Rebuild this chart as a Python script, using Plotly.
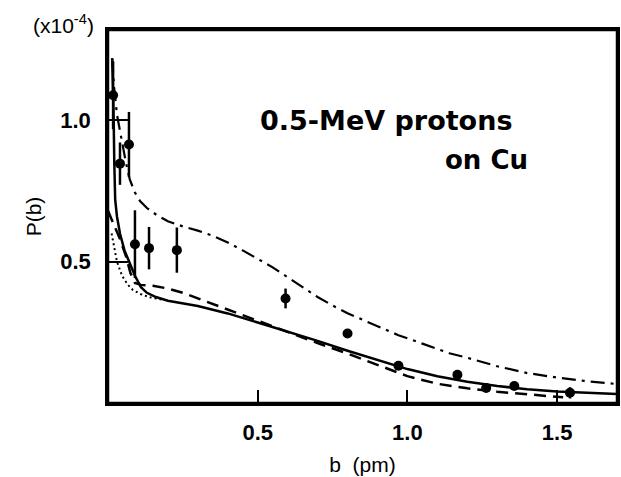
import plotly.graph_objects as go

# ── Measured points (P in units of 1e-4) ───────────────────────────────────
b_data = [0.017, 0.04, 0.07, 0.09, 0.137, 0.23, 0.593, 0.80, 0.97, 1.167, 1.263, 1.357, 1.543]
p_data = [1.089, 0.847, 0.915, 0.562, 0.548, 0.541, 0.370, 0.246, 0.132, 0.100, 0.053, 0.060, 0.036]
p_err = [0.12, 0.075, 0.115, 0.12, 0.075, 0.08, 0.035, 0, 0, 0, 0, 0, 0.02]

# ── Theory curves ──────────────────────────────────────────────────────────
b_solid = [0.014, 0.017, 0.019, 0.021, 0.024, 0.03, 0.04, 0.055, 0.07, 0.09, 0.11, 0.13,
           0.16, 0.2, 0.3, 0.4, 0.5, 0.6, 0.7, 0.8, 0.9, 1.0, 1.1, 1.2, 1.3, 1.4, 1.5, 1.6, 1.7]
p_solid = [1.22, 1.12, 1.0, 0.85, 0.72, 0.66, 0.60, 0.54, 0.50, 0.45, 0.41, 0.39,
           0.375, 0.362, 0.343, 0.317, 0.285, 0.253, 0.22, 0.185, 0.152, 0.12, 0.095,
           0.075, 0.06, 0.049, 0.041, 0.036, 0.032]

b_dash = [0.0, 0.02, 0.04, 0.06, 0.075, 0.09, 0.11, 0.15, 0.2, 0.25, 0.3, 0.4, 0.5, 0.6,
          0.7, 0.8, 0.9, 1.0, 1.1, 1.2, 1.3, 1.4, 1.52]
p_dash = [0.68, 0.63, 0.58, 0.52, 0.46, 0.425, 0.418, 0.415, 0.405, 0.39, 0.37, 0.33, 0.29,
          0.25, 0.212, 0.175, 0.135, 0.095, 0.068, 0.052, 0.04, 0.03, 0.02]

b_dashdot = [0.014, 0.02, 0.03, 0.04, 0.047, 0.06, 0.073, 0.09, 0.107, 0.13, 0.163, 0.2,
             0.25, 0.3, 0.35, 0.4, 0.45, 0.5, 0.55, 0.6, 0.65, 0.7, 0.75, 0.8, 0.86, 0.9,
             0.97, 1.05, 1.14, 1.2, 1.3, 1.4, 1.5, 1.6, 1.7]
p_dashdot = [1.22, 1.12, 1.02, 0.96, 0.93, 0.85, 0.79, 0.745, 0.715, 0.69, 0.665, 0.643,
             0.625, 0.61, 0.592, 0.568, 0.54, 0.51, 0.48, 0.445, 0.41, 0.375, 0.345, 0.318,
             0.29, 0.272, 0.24, 0.21, 0.176, 0.16, 0.13, 0.106, 0.09, 0.077, 0.067]

b_dot = [0.012, 0.02, 0.03, 0.047, 0.065, 0.083, 0.11, 0.14, 0.18]
p_dot = [0.60, 0.55, 0.50, 0.45, 0.42, 0.40, 0.385, 0.374, 0.366]

x_ticks = [0.5, 1.0, 1.5]
y_ticks = [0.5, 1.0]

FONT = "Liberation Sans, Arial, sans-serif"
WIDE = "DejaVu Sans, Liberation Sans, sans-serif"

fig = go.Figure()
fig.add_trace(go.Scatter(x=b_solid, y=p_solid, mode="lines",
                         line=dict(color="black", width=2.5)))
fig.add_trace(go.Scatter(x=b_dash, y=p_dash, mode="lines",
                         line=dict(color="black", width=2.5, dash="12px,7px")))
fig.add_trace(go.Scatter(x=b_dashdot, y=p_dashdot, mode="lines",
                         line=dict(color="black", width=2.2, dash="14px,6px,3px,6px")))
fig.add_trace(go.Scatter(x=b_dot, y=p_dot, mode="lines",
                         line=dict(color="black", width=2, dash="2px,3px")))
fig.add_trace(go.Scatter(
    x=b_data, y=p_data, mode="markers",
    marker=dict(color="black", size=10),
    error_y=dict(type="data", array=p_err, color="black", thickness=2.5, width=0),
))

# figure label
fig.add_annotation(x=0.93, y=1.0, xref="x", yref="y", text="<b>0.5-MeV protons</b>",
                   showarrow=False, xanchor="center", yanchor="middle",
                   font=dict(family=WIDE, size=27, color="black"))
fig.add_annotation(x=1.41, y=0.861, xref="x", yref="y", text="<b>on Cu</b>",
                   showarrow=False, xanchor="right", yanchor="middle",
                   font=dict(family=WIDE, size=26, color="black"))
# exponent label above the y axis
fig.add_annotation(x=-0.088, y=1.015, xref="paper", yref="paper",
                   text="(x10<sup>-4</sup>)", showarrow=False,
                   xanchor="center", yanchor="middle",
                   font=dict(family=FONT, size=21, color="black"))

# plot frame
fig.add_shape(type="rect", xref="paper", yref="paper", x0=0, y0=0, x1=1, y1=1,
              line=dict(color="black", width=2.5), layer="above")

fig.update_layout(
    width=621,
    height=477,
    showlegend=False,
    plot_bgcolor="white",
    paper_bgcolor="white",
    font=dict(family=FONT, size=20, color="black"),
    margin=dict(l=108, r=4, t=30, b=74, autoexpand=False),
)

fig.update_xaxes(
    range=[0, 1.7], tickvals=x_ticks, ticktext=["<b>0.5</b>", "<b>1.0</b>", "<b>1.5</b>"],
    tickfont=dict(size=22), ticklabelstandoff=8,
    ticks="inside", ticklen=13, tickwidth=2, tickcolor="black",
    showline=True, linecolor="black", linewidth=2.5, mirror=True,
    showgrid=False, zeroline=False, automargin=False,
    title=dict(text="b  (pm)", font=dict(size=21), standoff=14),
)
fig.update_yaxes(
    range=[0, 1.32], tickvals=y_ticks, ticktext=["<b>0.5</b>", "<b>1.0</b>"],
    tickfont=dict(size=22), ticklabelstandoff=10,
    ticks="inside", ticklen=20, tickwidth=2, tickcolor="black",
    showline=True, linecolor="black", linewidth=2.5, mirror=True,
    showgrid=False, zeroline=False, automargin=False,
    title=dict(text="P(b)", font=dict(size=21), standoff=13),
)

# page body has a default 8px margin; drop it so the figure fills the window
fig.write_html("out.html", config={"displayModeBar": False},
               post_script="document.body.style.margin='0';")
